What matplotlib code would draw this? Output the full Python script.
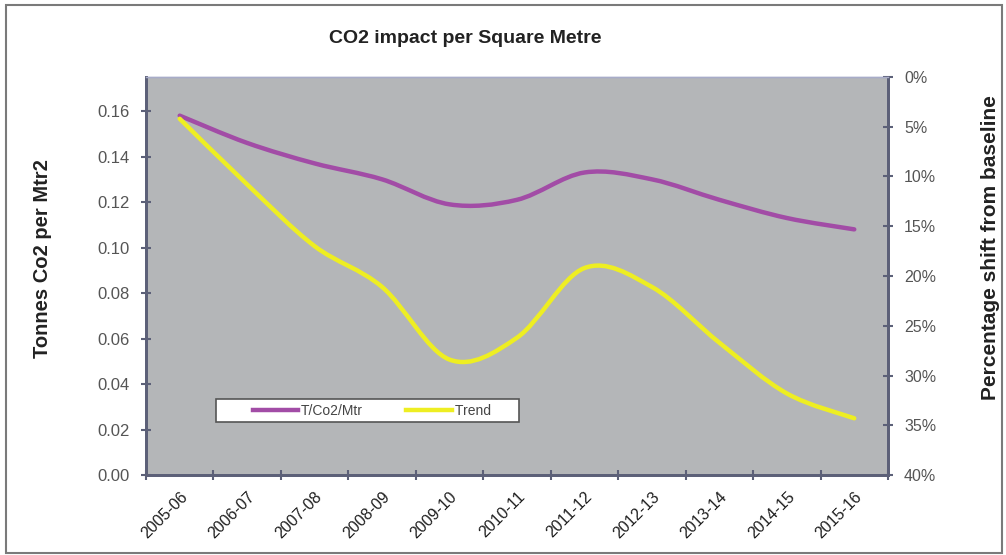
import matplotlib
matplotlib.use("Agg")
import matplotlib.pyplot as plt
from matplotlib.path import Path
from matplotlib.patches import PathPatch, Rectangle
from matplotlib.lines import Line2D
from matplotlib.legend_handler import HandlerLine2D
import numpy as np

plt.rcParams['font.family'] = ['Liberation Sans', 'DejaVu Sans']

# data
years = ['2005-06', '2006-07', '2007-08', '2008-09', '2009-10', '2010-11',
         '2011-12', '2012-13', '2013-14', '2014-15', '2015-16']
tco2_per_m2 = [0.158, 0.146, 0.137, 0.130, 0.119, 0.121, 0.133, 0.130, 0.121, 0.113, 0.108]
trend_pct = [4.2, 10.8, 17.0, 21.1, 28.4, 26.2, 19.2, 21.1, 26.7, 31.8, 34.3]

purple = '#a24ca6'
yellow = '#eeee22'
spine_col = '#5c6078'


def smooth_path(xs, ys):
    # excel-style smoothed line: cubic bezier through every point
    pts = np.column_stack([xs, ys]).astype(float)
    n = len(pts)
    verts = [pts[0]]
    codes = [Path.MOVETO]
    for i in range(n - 1):
        p0 = pts[i - 1] if i > 0 else pts[i]
        p1, p2 = pts[i], pts[i + 1]
        p3 = pts[i + 2] if i + 2 < n else pts[i + 1]
        verts += [p1 + (p2 - p0) / 6, p2 - (p3 - p1) / 6, p2]
        codes += [Path.CURVE4] * 3
    return Path(verts, codes)


fig = plt.figure(figsize=(10.06, 5.55), dpi=100)
fig.patches.append(Rectangle((0.006, 0.004), 0.99, 0.987, transform=fig.transFigure,
                             fill=False, edgecolor='#7a7a7a', linewidth=1.5))

ax = fig.add_axes([0.1451, 0.1441, 0.7376, 0.7172])
ax.set_facecolor('#b4b6b8')
x = np.arange(len(years))

ax.add_patch(PathPatch(smooth_path(x, tco2_per_m2), fill=False, edgecolor=purple,
                       linewidth=3.2, capstyle='round', zorder=3))
ax.set_xlim(-0.5, len(years) - 0.5)
ax.set_ylim(0, 0.175)
ax.set_yticks(np.arange(0, 0.161, 0.02))
ax.set_yticklabels([f'{v:.2f}' for v in np.arange(0, 0.161, 0.02)])
ax.set_xticks(x)
ax.set_xticklabels(years, rotation=45, ha='right', rotation_mode='anchor')
ax.set_xticks(np.arange(-0.5, len(years), 1), minor=True)
ax.tick_params(axis='x', which='major', length=0, pad=10, labelsize=11.5, labelcolor='#1e1e1e')
ax.tick_params(axis='x', which='minor', length=7, direction='inout', width=1.5, color=spine_col)
ax.tick_params(axis='y', length=7, direction='inout', width=1.5, color=spine_col,
               labelsize=12, labelcolor='#555555', pad=8)

ax2 = ax.twinx()
ax2.add_patch(PathPatch(smooth_path(x, trend_pct), fill=False, edgecolor=yellow,
                        linewidth=3.2, capstyle='round', zorder=3))
ax2.set_ylim(40, 0)
ax2.set_yticks(np.arange(0, 41, 5))
ax2.set_yticklabels([f'{v}%' for v in range(0, 41, 5)])
ax2.tick_params(axis='y', length=7, direction='inout', width=1.5, color=spine_col,
                labelsize=11.5, labelcolor='#555555', pad=8)

for a in (ax, ax2):
    for side in ('left', 'bottom', 'right'):
        a.spines[side].set_color(spine_col)
        a.spines[side].set_linewidth(2)
    a.spines['top'].set_color('#a8acc8')
    a.spines['top'].set_linewidth(1)

handles = [Line2D([], [], color=purple, linewidth=3.2),
           Line2D([], [], color=yellow, linewidth=3.2)]
leg = ax2.legend(handles, ['T/Co2/Mtr', 'Trend      '], ncol=2,
                 loc='lower left', bbox_to_anchor=(0.094, 0.132),
                 fontsize=10, frameon=True, fancybox=False, framealpha=1,
                 borderaxespad=0, borderpad=0.35, handlelength=5.6, handletextpad=0.2,
                 columnspacing=0.8, labelcolor='#444444',
                 handler_map={Line2D: HandlerLine2D(xpad=2.3)})
leg.get_frame().set_edgecolor('#555555')
leg.get_frame().set_linewidth(1.2)

fig.text(0.462, 0.93, 'CO2 impact per Square Metre', ha='center', va='center',
         fontsize=14, fontweight='bold', color='#222222')
fig.text(0.042, 1 - 259 / 555, 'Tonnes Co2 per Mtr2', rotation=90, ha='center',
         va='center', fontsize=14.5, fontweight='bold', color='#222222')
fig.text(0.985, 1 - 248 / 555, 'Percentage shift from baseline', rotation=90,
         ha='center', va='center', fontsize=15, fontweight='bold', color='#222222')

fig.savefig('out.png', dpi=100)
